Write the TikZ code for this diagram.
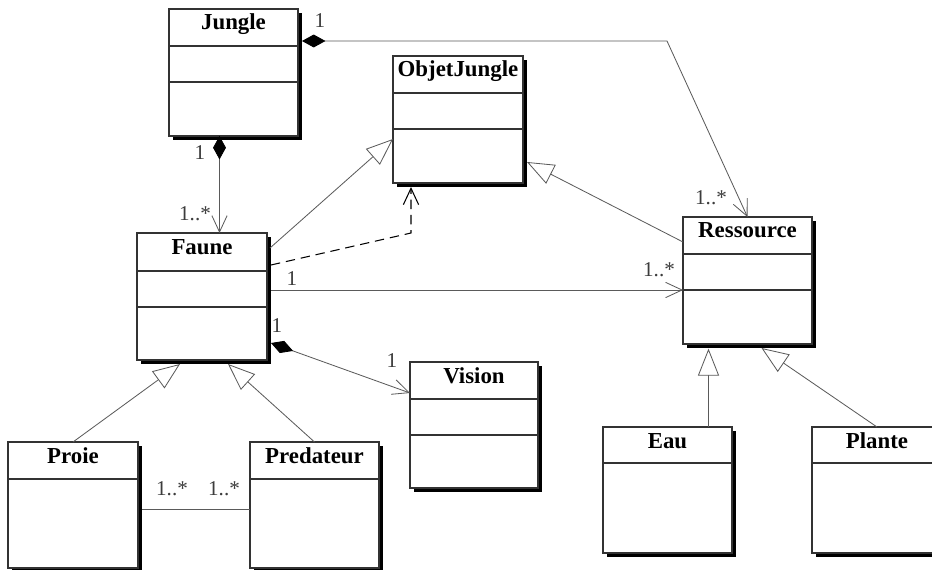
\documentclass[tikz,border=0pt]{standalone}
\usepackage{fontspec}
\setmainfont{Liberation Serif}
\usetikzlibrary{calc, positioning, shadows, arrows.meta}
\definecolor{BoxEdge}{HTML}{333333}
\definecolor{LinkGray}{HTML}{5A5A5A}
\definecolor{LabelGray}{HTML}{3C3C3C}
\newcommand{\pxu}{0.03cm}
\newcommand{\umlclass}[7]{
    \node[classbox, anchor=north west, minimum width=#4*\pxu, minimum height=#5*\pxu] (#1) at (#2,#3) {};
    \node[classtitle, anchor=base] (#1-title) at ($(#1.north)+(0,21)$) {#6};
    \foreach \sepy in {#7}
        \draw[BoxEdge, line width=0.9pt] ($(#1.north west)+(0,\sepy)$) -- ($(#1.north east)+(0,\sepy)$);
}

\begin{document}
\begin{tikzpicture}[x=\pxu, y=-\pxu,
    classbox/.style={draw=BoxEdge, line width=0.9pt, fill=white, inner sep=0pt, outer sep=0pt,
        drop shadow={shadow xshift=0.11cm, shadow yshift=-0.11cm, opacity=1, fill=black}},
    classtitle/.style={font=\fontsize{19.5}{20}\selectfont\bfseries, inner sep=0pt},
    mult/.style={font=\fontsize{18}{18}\selectfont, text=LabelGray, inner sep=0pt},
    link/.style={draw=LinkGray, line width=0.7pt},
    inherit/.style={link, -{Triangle[open, fill=white, length=23pt, width=18pt]}},
    assoc/.style={link, -{Straight Barb[length=14pt, width=13pt]}},
    compose/.style={link, {Diamond[black, length=20pt, width=11pt]}-{Straight Barb[length=14pt, width=13pt]}},
    depend/.style={draw=black, line width=0.9pt, dash pattern=on 8pt off 5pt, -{Straight Barb[length=14pt, width=13pt]}}]
    \fill[white] (0,0) rectangle (932,570);
    \useasboundingbox (0,0) rectangle (932,570);
    \clip (0,0) rectangle (932,570);

    % classes
    \umlclass{Jungle}{169}{9}{129}{127}{Jungle}{37,73}
    \umlclass{ObjetJungle}{393}{56}{130}{127}{ObjetJungle}{37,73}
    \umlclass{Faune}{137}{233}{130}{127}{Faune}{38,74}
    \umlclass{Ressource}{683}{217}{129}{127}{Ressource}{37,73}
    \umlclass{Vision}{410}{362}{128}{126}{Vision}{37,73}
    \umlclass{Proie}{8}{442}{130}{126}{Proie}{37}
    \umlclass{Predateur}{250}{442}{129}{126}{Predateur}{37}
    \umlclass{Eau}{603}{427}{129}{126}{Eau}{36}
    \umlclass{Plante}{812}{427}{130}{126}{Plante}{36}

    % Jungle compositions
    \coordinate (jf) at ($(Jungle.south)+(-14,0)$);
    \draw[compose] (jf) -- (jf |- Faune.north);
    \node[mult] (mJ1) at (200,153) {1};
    \node[mult] (mF1) at (195,214) {1..*};

    \coordinate (jr) at ($(Jungle.north east)+(4,32)$);
    \coordinate (jbend) at (667,41);
    \draw[compose] (jr) -- (jbend) -- (Ressource.north);
    \node[mult] (mJ2) at (320,21) {1};
    \node[mult] (mR1) at (711,198) {1..*};

    % heritage vers ObjetJungle
    \draw[inherit] ($(Faune.north east)+(3,15)$) -- ($(ObjetJungle.north west)+(0,83)$);
    \draw[inherit] ($(Ressource.north west)+(0,25)$) -- ($(ObjetJungle.north east)+(4,106)$);
    \coordinate (dcorner) at (411,233);
    \draw[depend, shorten >=0.12cm] ($(Faune.north east)+(4,32)$) -- (dcorner) -- (dcorner |- ObjetJungle.south);

    % Faune associations
    \coordinate (fr) at ($(Faune.north east)+(4,57)$);
    \draw[assoc] (fr) -- (fr -| Ressource.west);
    \node[mult] (mF2) at (292,279) {1};
    \node[mult] (mR2) at (659,270) {1..*};

    \draw[compose] ($(Faune.north east)+(4,110)$) -- ($(Vision.north west)+(0,31)$);
    \node[mult] (mF3) at (277,326) {1};
    \node[mult] (mV1) at (392,361) {1};

    % sous-classes
    \draw[inherit] (Proie.north) -- ($(Faune.south)+(-22,4)$);
    \draw[inherit] (Predateur.north) -- ($(Faune.south)+(26,4)$);
    \coordinate (pp) at ($(Proie.north east)+(4,67)$);
    \draw[link] (pp) -- (pp -| Predateur.west);
    \node[mult] (mP1) at (172,489) {1..*};
    \node[mult] (mP2) at (224,489) {1..*};

    \coordinate (er) at ($(Eau.north)+(41,0)$);
    \draw[inherit, shorten >=0.14cm] (er) -- (er |- Ressource.south);
    \draw[inherit] (Plante.north) -- ($(Ressource.south)+(14,4)$);
\end{tikzpicture}
\end{document}
